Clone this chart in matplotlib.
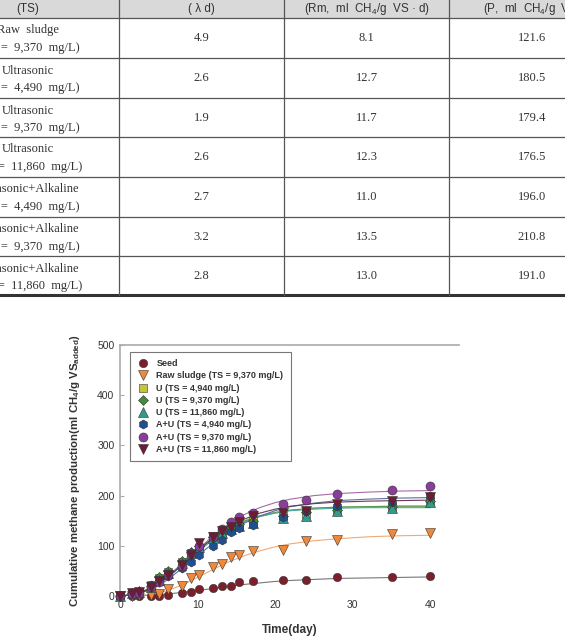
import matplotlib
matplotlib.use('Agg')
import matplotlib.pyplot as plt
from matplotlib.patches import Rectangle

plt.rcParams['font.family'] = ['Liberation Sans', 'DejaVu Sans']
plt.rcParams['mathtext.fontset'] = 'custom'
plt.rcParams['mathtext.rm'] = 'Liberation Sans'
plt.rcParams['mathtext.bf'] = 'Liberation Sans:bold'
plt.rcParams['mathtext.it'] = 'Liberation Sans:italic'

# ---- table data (top part of the page) ----
headers = ['(TS)', '( λ d)', '(Rm,  ml  CH$_4$/g  VS \u00b7 d)', '(P,  ml  CH$_4$/g  VS)']
row_names = ['Raw  sludge', 'Ultrasonic', 'Ultrasonic', 'Ultrasonic',
             'Ultrasonic+Alkaline', 'Ultrasonic+Alkaline', 'Ultrasonic+Alkaline']
row_ts = ['(TS  =  9,370  mg/L)', '(TS  =  4,490  mg/L)', '(TS  =  9,370  mg/L)',
          '(TS  =  11,860  mg/L)', '(TS  =  4,490  mg/L)', '(TS  =  9,370  mg/L)',
          '(TS  =  11,860  mg/L)']
lag = ['4.9', '2.6', '1.9', '2.6', '2.7', '3.2', '2.8']
rate = ['8.1', '12.7', '11.7', '12.3', '11.0', '13.5', '13.0']
potential = ['121.6', '180.5', '179.4', '176.5', '196.0', '210.8', '191.0']

# ---- chart data ----
days = [0, 1.5, 2.5, 4, 5, 6.2, 8, 9.2, 10.2, 12, 13.2, 14.3, 15.4, 17.2, 21, 24, 28, 35, 40]
seed = [0, 0, 0, 0, 0, 1, 5, 7, 13, 15, 19, 20, 27, 29, 31, 31, 37, 37, 40]
raw = [0, 0, 1, 2, 4, 13, 19, 35, 42, 57, 64, 77, 81, 90, 91, 109, 111, 123, 125]
u4940 = [0, 5, 8, 22, 35, 48, 68, 85, 95, 120, 125, 135, 140, 150, 160, 163, 172, 178, 190]
u9370 = [0, 6, 9, 20, 37, 50, 70, 88, 100, 118, 127, 137, 143, 150, 160, 168, 172, 178, 190]
u11860 = [0, 5, 8, 18, 32, 45, 65, 85, 98, 115, 125, 133, 140, 145, 155, 160, 170, 175, 188]
au4940 = [0, 4, 7, 22, 28, 40, 55, 68, 82, 100, 112, 128, 135, 142, 158, 170, 180, 188, 200]
au9370 = [0, 3, 6, 18, 27, 42, 60, 85, 100, 118, 133, 147, 157, 165, 183, 191, 203, 211, 220]
au11860 = [0, 5, 8, 18, 30, 42, 62, 82, 105, 118, 130, 138, 148, 160, 165, 170, 183, 190, 197]

# fitted curves
fit_days = [0, 2, 4, 6, 8, 10, 12, 14, 16, 18, 20, 22, 25, 28, 32, 36, 40]
seed_fit = [0, 0.5, 1.5, 4, 7, 11, 15, 19, 23, 26, 29, 31, 33, 35, 36, 37, 38]
raw_fit = [0, 0.5, 3, 10, 22, 37, 53, 68, 80, 90, 98, 104, 110, 114, 118, 120, 121]
u4940_fit = [0, 3, 15, 35, 62, 90, 115, 135, 150, 160, 167, 171, 175, 177, 178, 179, 179]
u9370_fit = [0, 4, 17, 38, 64, 91, 115, 134, 149, 159, 166, 171, 175, 177, 178, 179, 179]
u11860_fit = [0, 3, 15, 35, 61, 88, 112, 132, 147, 158, 165, 170, 173, 175, 176, 176, 176]
au4940_fit = [0, 3, 13, 31, 55, 80, 105, 127, 145, 159, 170, 178, 185, 190, 193, 195, 196]
au9370_fit = [0, 3, 15, 36, 63, 92, 120, 143, 162, 176, 186, 193, 200, 204, 207, 209, 210]
au11860_fit = [0, 3, 15, 35, 62, 90, 116, 137, 153, 165, 173, 179, 184, 187, 189, 190, 191]

labels = ['Seed', 'Raw sludge (TS = 9,370 mg/L)', 'U (TS = 4,940 mg/L)',
          'U (TS = 9,370 mg/L)', 'U (TS = 11,860 mg/L)', 'A+U (TS = 4,940 mg/L)',
          'A+U (TS = 9,370 mg/L)', 'A+U (TS = 11,860 mg/L)']
points = [seed, raw, u4940, u9370, u11860, au4940, au9370, au11860]
fits = [seed_fit, raw_fit, u4940_fit, u9370_fit, u11860_fit, au4940_fit, au9370_fit, au11860_fit]
colors = ['#7b1f2b', '#f0883a', '#c4c43a', '#3f8f3a', '#2f9c8c', '#1f4f8f', '#8a3d9a', '#6c1c34']
line_colors = ['#777777', '#f2a878', '#b8b86a', '#4f9a4f', '#4aa89a', '#5a6fa0', '#a86aa8', '#6a3a50']
markers = ['o', 'v', 's', 'D', '^', 'h', 'o', 'v']
msizes = [6, 6.5, 5.5, 5, 6.5, 6.5, 6.5, 6.5]

fig = plt.figure(figsize=(5.65, 6.38), dpi=100)

# table drawn in pixel coordinates on a full-page axes
tab = fig.add_axes([0, 0, 1, 1])
tab.set_xlim(0, 565)
tab.set_ylim(638, 0)
tab.axis('off')

tab.add_patch(Rectangle((0, 0), 565, 18, facecolor='#d9d9d9', edgecolor='none'))
head_x = [28, 201.5, 366.5, 532]
for i, h in enumerate(headers):
    tab.text(head_x[i], 9, h, ha='center', va='center', fontsize=8.4, color='#333333')

row_top = [18, 58, 98, 137, 177, 217, 256]
body = dict(ha='center', va='center', fontsize=9, family='Liberation Serif', color='#333333')
for i in range(len(row_names)):
    y0 = row_top[i]
    tab.text(28, y0 + 12.5, row_names[i], **body)
    tab.text(28, y0 + 30, row_ts[i], **body)
    tab.text(201.5, y0 + 20, lag[i], **body)
    tab.text(366.5, y0 + 20, rate[i], **body)
    tab.text(532, y0 + 20, potential[i], **body)

for y in row_top:
    tab.plot([0, 565], [y, y], color='#555555', lw=0.9)
tab.plot([0, 565], [295, 295], color='#333333', lw=2.2)
for x in [119, 284, 449]:
    tab.plot([x, x], [0, 295], color='#555555', lw=0.9)

# chart
ax = fig.add_axes([120 / 565, (638 - 596) / 638, (459 - 120) / 565, (596 - 345) / 638])
for i in range(len(points)):
    ax.plot(fit_days, fits[i], color=line_colors[i], lw=0.8, zorder=2)
for i in range(len(points)):
    ax.plot(days, points[i], linestyle='none', marker=markers[i], ms=msizes[i],
            color=colors[i], markeredgecolor='#333333', markeredgewidth=0.4,
            label=labels[i], clip_on=False, zorder=3)

ax.set_xlim(0, 43.7)
ax.set_ylim(0, 500)
ax.set_xticks([0, 10, 20, 30, 40])
ax.set_yticks([0, 100, 200, 300, 400, 500])
for s in ['right', 'bottom']:
    ax.spines[s].set_visible(False)
for s in ['left', 'top']:
    ax.spines[s].set_color('#aaaaaa')
    ax.spines[s].set_linewidth(1.2)
ax.tick_params(axis='y', direction='in', length=3, width=0.8, color='#aaaaaa',
               labelsize=7.5, labelcolor='#333333', pad=4)
ax.tick_params(axis='x', length=0, labelsize=7.5, labelcolor='#333333', pad=3)

ax.set_xlabel('Time(day)', fontsize=8.5, fontweight='bold', color='#333333', labelpad=10)
ax.set_ylabel(r'Cumulative methane production(ml CH$_\mathbf{4}$/g VS$_\mathbf{added}$)',
              fontsize=8.2, fontweight='bold', color='#333333', labelpad=11)

leg = ax.legend(loc='upper left', bbox_to_anchor=(0.017, 0.99), frameon=True,
                fancybox=False, edgecolor='#555555', handletextpad=0.9,
                labelspacing=0.36, borderpad=0.8, handlelength=1.2,
                prop={'size': 6.5, 'weight': 'bold'})
leg.get_frame().set_linewidth(0.8)
for t in leg.get_texts():
    t.set_color('#333333')

plt.savefig('out.png', dpi=100)
